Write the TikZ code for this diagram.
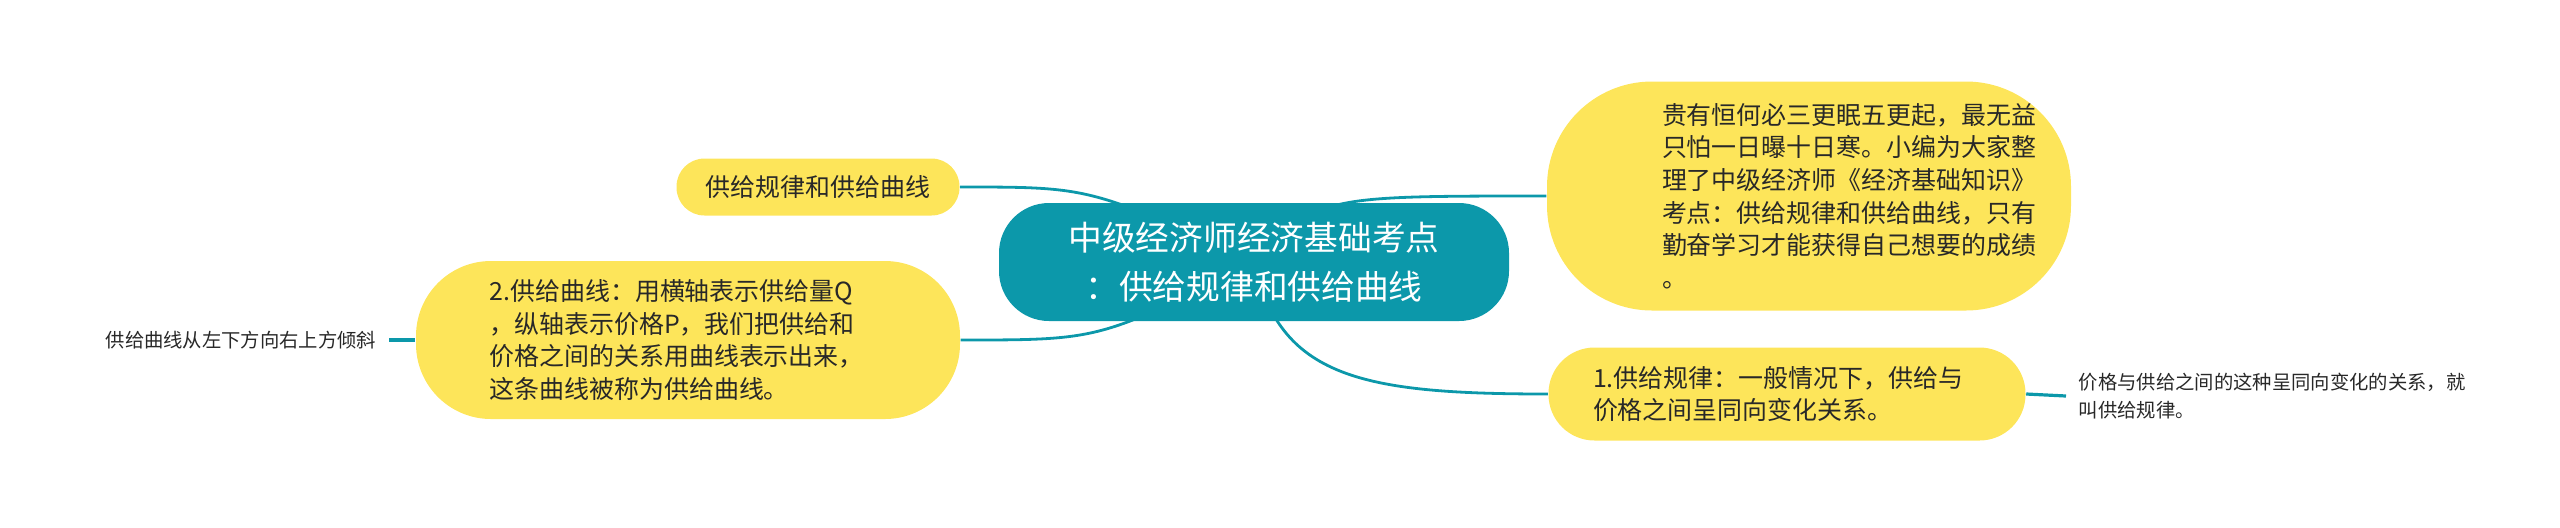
\documentclass[tikz,border=0pt]{standalone}
\usepackage{fontspec}
\setmainfont{Noto Sans CJK SC}
\usepackage{xcolor}
\usepackage{tikz}
\usetikzlibrary{positioning}
\definecolor{mapteal}{RGB}{12,152,170}
\definecolor{mapyellow}{RGB}{253,229,90}
\definecolor{maptext}{RGB}{40,40,40}
\pgfdeclarelayer{bg}
\pgfsetlayers{bg,main}
\tikzset{
    rootnode/.style = {rectangle, rounded corners=0.5cm, fill=mapteal, text=white, align=center, font=\fontsize{9.6pt}{13.9pt}\selectfont, minimum width=5.10cm, minimum height=1.18cm, inner sep=0pt},
    mynode/.style = {rectangle, fill=mapyellow, text=maptext, font=\fontsize{7.1pt}{9.3pt}\selectfont, inner sep=0pt},
    leafnode/.style = {rectangle, text=maptext, font=\fontsize{5.5pt}{7.9pt}\selectfont, inner xsep=0.12cm, inner ysep=0pt},
}

\begin{document}
\begin{tikzpicture}
\tikzset{
    edgen/.style = {-, line width=0.028cm, mapteal},
    edgel/.style = {-, line width=0.032cm, mapteal},
}
\useasboundingbox (0,0) rectangle (25.6,5.27);
\node[rootnode] at (12.54,2.65) (root) {中级经济师经济基础考点\\：供给规律和供给曲线};
\node[mynode, rounded corners=0.28cm, minimum width=2.83cm, minimum height=0.57cm] at (8.18,3.40) (title) {供给规律和供给曲线};
\node[mynode, rounded corners=0.75cm, minimum width=5.44cm, minimum height=1.58cm, text width=3.97cm, align=left] at (6.88,1.87) (curve) {2.供给曲线：用横轴表示供给量Q\\，纵轴表示价格P，我们把供给和\\价格之间的关系用曲线表示出来，\\这条曲线被称为供给曲线。};
\node[mynode, rounded corners=1.05cm, minimum width=5.24cm, minimum height=2.29cm, text width=4.60cm, align=left] at (18.09,3.31) (intro) {\leftskip=0.83cm 贵有恒何必三更眠五更起，最无益\\只怕一日曝十日寒。小编为大家整\\理了中级经济师《经济基础知识》\\考点：供给规律和供给曲线，只有\\勤奋学习才能获得自己想要的成绩\\。\par};
\node[mynode, rounded corners=0.46cm, minimum width=4.77cm, minimum height=0.93cm, text width=3.88cm, align=left] at (17.87,1.33) (law) {1.供给规律：一般情况下，供给与\\价格之间呈同向变化关系。};
\node[leafnode, anchor=east] at (3.89,1.87) (curveleaf) {供给曲线从左下方向右上方倾斜};
\node[leafnode, anchor=west, text width=3.95cm, align=left] at (20.66,1.31) (lawleaf) {价格与供给之间的这种呈同向变化的关系，就\\叫供给规律。};
%
\begin{pgfonlayer}{bg}
\draw[edgen] (root.center) .. controls (10.9,3.40) .. (title.east);
\draw[edgen] (root.center) .. controls (11.0,1.87) .. (curve.east);
\draw[edgen] (root.center) .. controls (13.2,3.31) .. (intro.west);
\draw[edgen] (root.center) .. controls (12.8,1.5) and (13.6,1.33) .. (law.west);
%
\draw[edgel] (curveleaf.east) -- (curve.west);
\draw[edgel] (law.east) -- (lawleaf.west);
\end{pgfonlayer}
\end{tikzpicture}
\end{document}
